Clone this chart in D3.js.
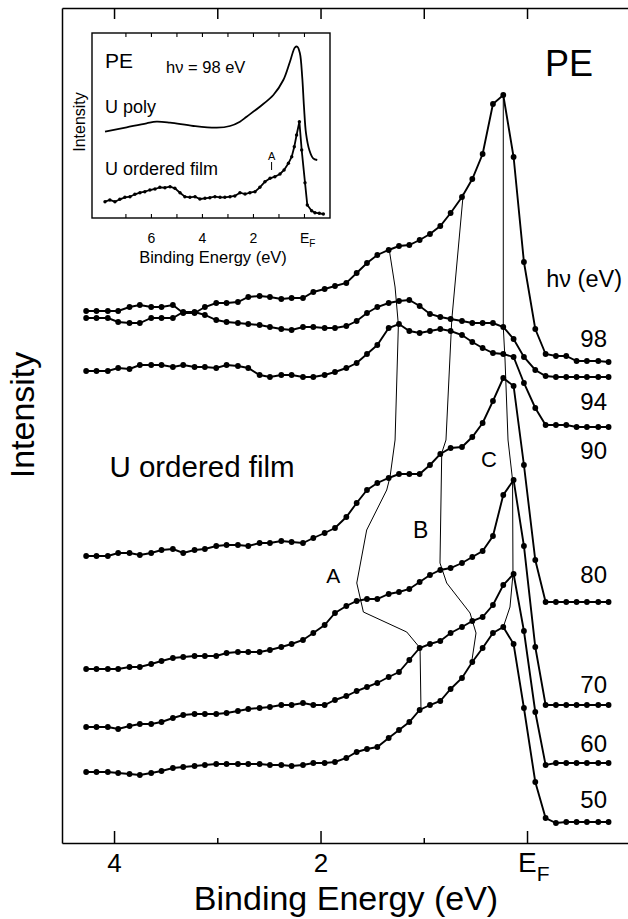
<!DOCTYPE html>
<html lang="en">
<head>
<meta charset="UTF-8">
<title>PE U ordered film</title>
<script src="https://d3js.org/d3.v7.min.js"></script>
<style>
  body { margin: 0; background: #fff; }
  text { font-family: "Liberation Sans", Arial, Helvetica, sans-serif; fill: #000; }
</style>
</head>
<body>
<svg width="628" height="919"></svg>
<script>
// binding energy (eV) of every measured point, shared by all spectra
const energies = [4.27, 4.17, 4.06, 3.96, 3.85, 3.75, 3.64, 3.54, 3.43, 3.33,
  3.22, 3.12, 3.01, 2.91, 2.80, 2.70, 2.59, 2.49, 2.38, 2.28,
  2.17, 2.07, 1.96, 1.86, 1.75, 1.65, 1.55, 1.45, 1.34, 1.24,
  1.14, 1.04, 0.94, 0.84, 0.74, 0.63, 0.53, 0.43, 0.33, 0.23,
  0.13, 0.03, -0.08, -0.18, -0.28, -0.38, -0.48, -0.58, -0.69, -0.79];

// intensity (arb. units, offset spectra) for each photon energy
const hv98 = [53.2, 53.2, 53.2, 53.2, 53.6, 53.8, 53.6, 53.6, 53.8, 53.0,
  53.0, 53.6, 54.0, 54.0, 54.1, 54.6, 54.7, 54.6, 54.4, 54.5,
  54.5, 55.1, 55.4, 55.7, 56.0, 57.0, 58.0, 58.8, 59.3, 59.7,
  59.8, 60.3, 60.9, 61.7, 63.0, 64.6, 66.4, 68.9, 73.9, 74.8,
  68.6, 58.1, 51.4, 48.9, 48.7, 48.7, 48.2, 48.2, 48.2, 48.1];
const hv94 = [52.5, 52.5, 52.5, 52.1, 52.0, 52.0, 52.5, 52.5, 52.5, 53.1,
  53.1, 52.8, 52.3, 52.1, 52.0, 51.9, 51.8, 51.6, 51.4, 51.3,
  51.6, 51.6, 51.5, 51.5, 51.7, 52.2, 53.0, 53.6, 54.0, 54.2,
  54.3, 53.7, 52.9, 52.6, 52.4, 52.2, 52.0, 52.0, 52.0, 51.6,
  50.4, 48.6, 47.3, 46.7, 46.6, 46.6, 46.6, 46.6, 46.6, 46.6];
const hv90 = [47.2, 47.2, 47.2, 47.5, 47.4, 47.8, 47.8, 47.8, 47.6, 47.8,
  47.6, 47.6, 47.5, 47.8, 47.7, 47.5, 46.8, 46.6, 46.8, 46.8,
  46.6, 46.6, 46.8, 47.1, 47.5, 48.0, 48.9, 49.8, 51.5, 51.9,
  51.2, 51.0, 51.2, 51.4, 51.2, 50.8, 50.1, 49.5, 49.0, 48.9,
  48.6, 46.0, 43.5, 41.8, 41.8, 41.8, 41.6, 41.6, 41.6, 41.6];
const hv80 = [28.7, 28.7, 28.7, 29.0, 29.0, 28.8, 29.0, 29.3, 29.4, 29.0,
  29.3, 29.4, 29.7, 29.8, 29.8, 29.7, 30.0, 30.0, 30.2, 30.1,
  30.0, 30.5, 31.0, 31.5, 32.6, 34.0, 35.3, 36.0, 36.5, 36.9,
  36.9, 36.9, 37.8, 38.9, 39.5, 39.6, 40.6, 42.0, 44.2, 46.5,
  45.7, 37.8, 28.3, 24.1, 24.1, 24.1, 24.1, 24.1, 24.1, 24.1];
const hv70 = [17.4, 17.4, 17.4, 17.4, 17.6, 17.6, 17.9, 18.2, 18.5, 18.6,
  18.7, 18.7, 18.7, 19.0, 19.1, 19.1, 19.1, 19.3, 19.6, 19.9,
  20.3, 21.0, 21.8, 23.0, 23.7, 24.2, 24.4, 24.4, 24.9, 25.1,
  25.4, 26.1, 26.8, 27.3, 27.5, 28.0, 28.6, 29.2, 30.7, 34.8,
  36.3, 29.7, 19.6, 13.8, 13.8, 13.8, 13.8, 13.8, 13.8, 13.8];
const hv60 = [11.6, 11.6, 11.6, 11.4, 11.7, 11.9, 11.9, 12.1, 12.5, 12.8,
  12.9, 12.9, 12.9, 13.0, 13.2, 13.4, 13.5, 13.6, 13.8, 13.8,
  14.0, 13.8, 13.8, 14.3, 14.7, 15.2, 15.6, 16.0, 16.6, 17.1,
  18.3, 19.5, 19.9, 20.2, 21.0, 21.6, 22.2, 22.6, 23.8, 25.8,
  26.9, 21.2, 13.1, 7.8, 8.0, 8.0, 8.0, 8.0, 8.0, 8.0];
const hv50 = [7.1, 7.1, 7.1, 7.0, 6.9, 6.8, 7.0, 7.2, 7.5, 7.6,
  7.7, 7.8, 7.9, 7.9, 7.9, 7.9, 7.9, 7.8, 7.8, 7.7,
  7.8, 8.0, 8.0, 8.1, 8.5, 9.1, 9.4, 9.6, 10.5, 11.3,
  12.1, 13.3, 13.8, 14.2, 15.4, 16.5, 18.1, 19.5, 21.0, 21.6,
  19.9, 13.5, 6.1, 2.5, 2.0, 2.1, 2.1, 2.1, 2.1, 2.1];
const photonLabels = ["98", "94", "90", "80", "70", "60", "50"];

// feature guide lines A, B, C as [binding energy, intensity]
const guideA = [[1.334, 59.3], [1.278, 55.6], [1.246, 51.8], [1.278, 40.3], [1.327, 36.6], [1.359, 35.3],
  [1.553, 31.3], [1.649, 26.0], [1.585, 23.1], [1.165, 21.1], [1.036, 19.5], [1.027, 13.3]];
const guideB = [[0.617, 65.0], [0.729, 52.3], [0.785, 40.3], [0.826, 39.0], [0.843, 28.0], [0.778, 26.0],
  [0.552, 23.0], [0.494, 21.0], [0.536, 18.1]];
const guideC = [[0.230, 74.8], [0.230, 51.6], [0.213, 48.3], [0.184, 40.3], [0.140, 36.3], [0.136, 26.9],
  [0.165, 23.6], [0.230, 21.6]];

// inset, hv = 98 eV: U poly (smooth) and U ordered film (points)
const polyE = [7.80, 6.95, 6.17, 5.78, 5.25, 4.34, 3.42, 2.90, 2.51, 2.25, 1.73, 1.20, 0.81, 0.55,
  0.35, 0.26, 0.16, 0.07, 0.00, -0.08, -0.21, -0.36, -0.52];
const polyI = [86.3, 90.7, 94.7, 96.3, 95.3, 92.0, 90.3, 92.0, 96.3, 101.3, 111.3, 123.0, 138.0, 156.3,
  170.7, 171.3, 164.7, 141.3, 111.3, 84.7, 68.0, 59.7, 58.0];
const filmE = [7.80, 7.61, 7.41, 7.22, 7.02, 6.82, 6.63, 6.43, 6.24, 6.04, 5.84, 5.65, 5.45, 5.25,
  5.06, 4.86, 4.67, 4.47, 4.27, 4.08, 3.88, 3.69, 3.49, 3.29, 3.10, 2.90, 2.71, 2.51, 2.31, 2.12,
  1.92, 1.73, 1.53, 1.33, 1.14, 0.94, 0.78, 0.61, 0.48, 0.38, 0.29, 0.18, 0.09, -0.04, -0.13,
  -0.30, -0.43, -0.60, -0.76];
const filmI = [16.3, 18.0, 16.3, 18.7, 20.7, 21.3, 23.7, 25.3, 26.3, 28.0, 29.0, 30.7, 30.3, 31.3,
  29.7, 25.3, 21.3, 20.7, 21.3, 19.0, 19.7, 20.3, 21.3, 20.7, 20.7, 21.3, 22.0, 25.3, 24.0, 25.3,
  26.3, 30.7, 36.3, 39.7, 41.3, 44.0, 48.0, 54.7, 61.3, 71.3, 83.0, 96.3, 68.0, 35.3, 13.0,
  7.3, 5.3, 4.7, 4.0];

const svg = d3.select("svg");
const x = d3.scaleLinear().domain([4.504, -0.978]).range([62, 628]);
const y = d3.scaleLinear().domain([0, 83.5]).range([843, 8]);

// ---- frame and axes
function styleAxis(g, w) {
  g.selectAll("path, line").attr("stroke", "#000").attr("stroke-width", w);
  g.selectAll("text").attr("font-family", null).attr("fill", "#000");
  g.attr("font-family", null);
}

const bottom = svg.append("g")
  .attr("transform", "translate(0," + y(0) + ")")
  .call(d3.axisBottom(x).tickValues([4, 2, 0]).tickSizeInner(-12).tickSizeOuter(0).tickPadding(11)
    .tickFormat(d => d === 0 ? "" : d))
  .call(g => styleAxis(g, 1.5));
bottom.selectAll("text").attr("font-size", 26);
const ef = bottom.selectAll(".tick").filter(d => d === 0).select("text")
  .attr("text-anchor", "start").attr("x", -9.5);
ef.append("tspan").attr("font-size", 28).text("E");
ef.append("tspan").attr("font-size", 21).attr("dy", 9).text("F");

svg.append("g")
  .attr("transform", "translate(0," + y(0) + ")")
  .call(d3.axisBottom(x).tickValues([3, 1]).tickSize(-5).tickFormat(""))
  .call(g => g.select(".domain").remove())
  .call(g => styleAxis(g, 1.5));

svg.append("g")
  .attr("transform", "translate(0," + y(83.5) + ")")
  .call(d3.axisTop(x).tickValues([4, 3, 2, 1, 0]).tickSizeInner(-11).tickSizeOuter(0).tickFormat(""))
  .call(g => styleAxis(g, 1.5));

svg.append("g")
  .attr("transform", "translate(" + x(4.504) + ",0)")
  .call(d3.axisLeft(y).tickValues([]).tickSizeOuter(0))
  .call(g => styleAxis(g, 1.5));

svg.append("text")
  .attr("x", 346).attr("y", 910)
  .attr("text-anchor", "middle").attr("font-size", 34)
  .text("Binding Energy (eV)");

svg.append("text")
  .attr("transform", "translate(34,415) rotate(-90)")
  .attr("text-anchor", "middle").attr("font-size", 34)
  .text("Intensity");

// ---- guide lines through features A, B, C
const guide = d3.line().x(d => x(d[0])).y(d => y(d[1]));
[guideA, guideB, guideC].forEach(g => {
  svg.append("path").datum(g)
    .attr("d", guide)
    .attr("fill", "none").attr("stroke", "#000").attr("stroke-width", 1);
});

// ---- spectra
const spectra = [hv98, hv94, hv90, hv80, hv70, hv60, hv50];
const labelDy = [-15, 33, 32, -19, -12, -11, -14];
const line = d3.line().x((d, i) => x(energies[i])).y(d => y(d));

spectra.forEach((vals, k) => {
  const g = svg.append("g");
  g.append("path").datum(vals)
    .attr("d", line)
    .attr("fill", "none").attr("stroke", "#000").attr("stroke-width", 1.9);
  g.selectAll("circle")
    .data(vals)
    .enter()
    .append("circle")
    .attr("cx", (d, i) => x(energies[i]))
    .attr("cy", d => y(d))
    .attr("r", 2.9);
  g.append("text")
    .attr("x", x(-0.775))
    .attr("y", y(vals[vals.length - 1]) + labelDy[k])
    .attr("text-anchor", "end").attr("font-size", 24)
    .text(photonLabels[k]);
});

svg.append("text").attr("x", x(-0.174)).attr("y", y(76.7)).attr("font-size", 36).text("PE");
svg.append("text").attr("x", x(-0.92)).attr("y", y(55.6)).attr("text-anchor", "end")
  .attr("font-size", 23.5).text("hν (eV)");
svg.append("text").attr("x", x(4.045)).attr("y", y(36.6)).attr("font-size", 29.5).text("U ordered film");
svg.append("text").attr("x", x(1.876)).attr("y", y(26.0)).attr("text-anchor", "middle").attr("font-size", 21).text("A");
svg.append("text").attr("x", x(1.031)).attr("y", y(30.5)).attr("text-anchor", "middle").attr("font-size", 23).text("B");
svg.append("text").attr("x", x(0.368)).attr("y", y(37.6)).attr("text-anchor", "middle").attr("font-size", 22).text("C");

// ---- inset
const xi = d3.scaleLinear().domain([8.31, -1.02]).range([92, 330]);
const yi = d3.scaleLinear().domain([0, 185]).range([218, 33]);
const inset = svg.append("g");

inset.append("rect")
  .attr("x", 92).attr("y", 33).attr("width", 238).attr("height", 185)
  .attr("fill", "#fff").attr("stroke", "#000").attr("stroke-width", 1.4);

const ib = inset.append("g")
  .attr("transform", "translate(0," + yi(0) + ")")
  .call(d3.axisBottom(xi).tickValues([7, 6, 5, 4, 3, 2, 1, 0]).tickSize(-4).tickPadding(15)
    .tickFormat(d => (d % 2 === 0 && d > 0) ? d : ""))
  .call(g => g.select(".domain").remove())
  .call(g => styleAxis(g, 1.1));
ib.selectAll("text").attr("font-size", 14);
const ief = ib.selectAll(".tick").filter(d => d === 0).select("text")
  .attr("text-anchor", "start").attr("x", -4.5);
ief.append("tspan").attr("font-size", 14).text("E");
ief.append("tspan").attr("font-size", 10).attr("dy", 4).text("F");

inset.append("g")
  .attr("transform", "translate(0," + yi(185) + ")")
  .call(d3.axisTop(xi).tickValues([7, 6, 5, 4, 3, 2, 1, 0]).tickSize(-4).tickFormat(""))
  .call(g => g.select(".domain").remove())
  .call(g => styleAxis(g, 1.1));

inset.append("path")
  .datum(polyE.map((e, i) => [e, polyI[i]]))
  .attr("d", d3.line().x(d => xi(d[0])).y(d => yi(d[1])).curve(d3.curveCatmullRom))
  .attr("fill", "none").attr("stroke", "#000").attr("stroke-width", 1.8);

const film = filmE.map((e, i) => [e, filmI[i]]);
inset.append("path")
  .datum(film)
  .attr("d", d3.line().x(d => xi(d[0])).y(d => yi(d[1])))
  .attr("fill", "none").attr("stroke", "#000").attr("stroke-width", 1.8);
inset.selectAll(".fdot")
  .data(film)
  .enter()
  .append("circle")
  .attr("class", "fdot")
  .attr("cx", d => xi(d[0]))
  .attr("cy", d => yi(d[1]))
  .attr("r", 1.7);

inset.append("line")
  .attr("x1", xi(1.27)).attr("x2", xi(1.27))
  .attr("y1", yi(56)).attr("y2", yi(48))
  .attr("stroke", "#000").attr("stroke-width", 1);
inset.append("text").attr("x", xi(1.27)).attr("y", yi(58)).attr("text-anchor", "middle")
  .attr("font-size", 11).text("A");

inset.append("text").attr("x", 105).attr("y", 68).attr("font-size", 21).text("PE");
inset.append("text").attr("x", 166).attr("y", 73).attr("font-size", 16.5).text("hν = 98 eV");
inset.append("text").attr("x", 105).attr("y", 113).attr("font-size", 18).text("U poly");
inset.append("text").attr("x", 105).attr("y", 175).attr("font-size", 18).text("U ordered film");
inset.append("text")
  .attr("transform", "translate(85,122) rotate(-90)")
  .attr("text-anchor", "middle").attr("font-size", 16)
  .text("Intensity");
inset.append("text")
  .attr("x", 213).attr("y", 263).attr("text-anchor", "middle").attr("font-size", 16.5)
  .text("Binding Energy (eV)");
</script>
</body>
</html>
